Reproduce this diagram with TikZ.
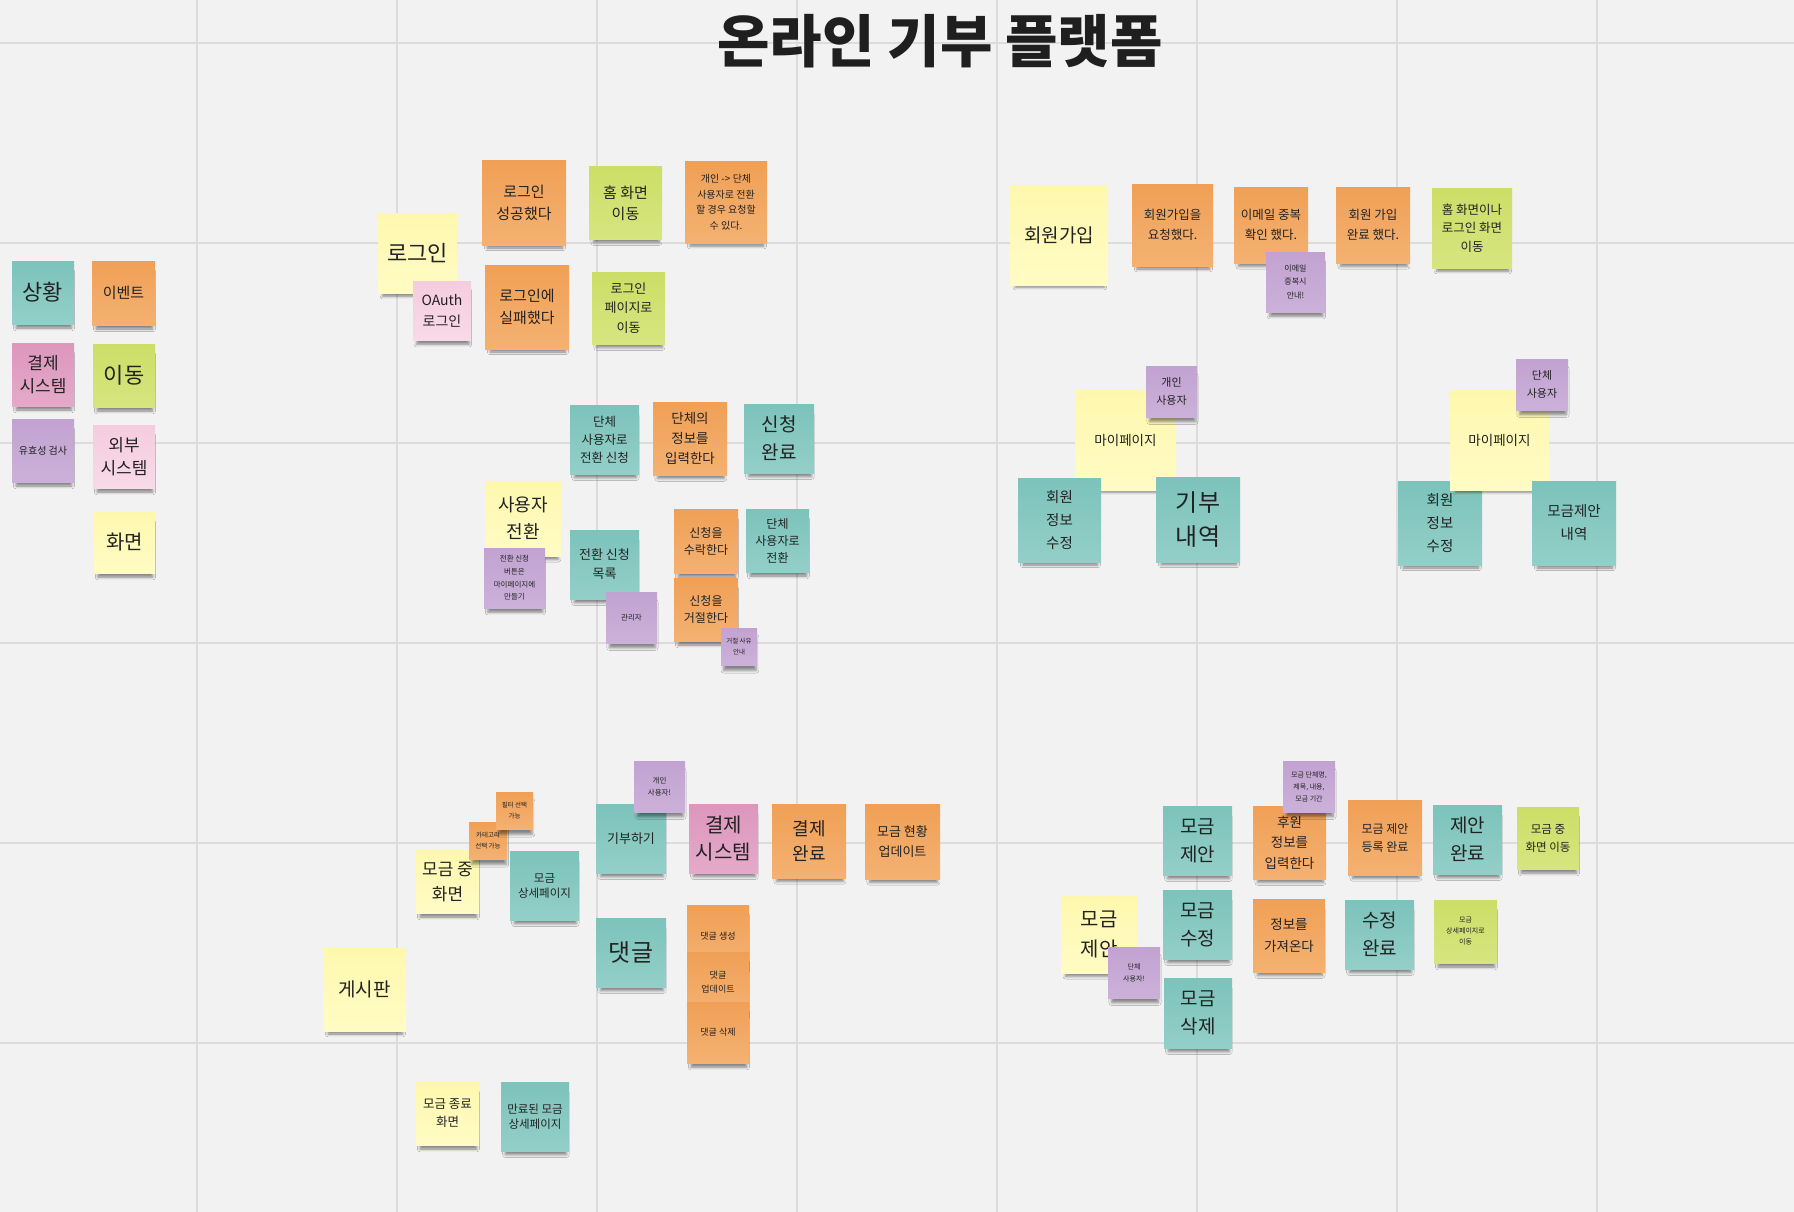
\documentclass[tikz,border=0pt]{standalone}
\usepackage{fontspec}
\setmainfont{Noto Sans CJK KR}
\usetikzlibrary{shadows,shadows.blur}
\definecolor{boardbg}{HTML}{F2F2F2}
\definecolor{gridgray}{HTML}{DCDCDC}
\definecolor{ink}{HTML}{222222}
\definecolor{tealA}{HTML}{7CC3BB}\definecolor{tealB}{HTML}{93CFC8}
\definecolor{orangeA}{HTML}{F0A056}\definecolor{orangeB}{HTML}{F4B172}
\definecolor{limeA}{HTML}{CCDE66}\definecolor{limeB}{HTML}{D7E580}
\definecolor{yellowA}{HTML}{FEF8AE}\definecolor{yellowB}{HTML}{FFFBC4}
\definecolor{pinkA}{HTML}{DD96BC}\definecolor{pinkB}{HTML}{E4AACA}
\definecolor{blushA}{HTML}{F5CCDF}\definecolor{blushB}{HTML}{F8DAE8}
\definecolor{violetA}{HTML}{C2A2D1}\definecolor{violetB}{HTML}{CBB1D9}
\tikzset{
  note/.style={rectangle, inner sep=1pt, align=center, text=ink,
    blur shadow={shadow xshift=1pt, shadow yshift=-8pt, shadow blur radius=3pt, shadow opacity=45, shadow scale=0.9}},
  teal note/.style={note, top color=tealA, bottom color=tealB},
  orange note/.style={note, top color=orangeA, bottom color=orangeB},
  lime note/.style={note, top color=limeA, bottom color=limeB},
  yellow note/.style={note, top color=yellowA, bottom color=yellowB},
  pink note/.style={note, top color=pinkA, bottom color=pinkB},
  blush note/.style={note, top color=blushA, bottom color=blushB},
  violet note/.style={note, top color=violetA, bottom color=violetB},
  wh/.style 2 args={minimum width=#1, minimum height=#2},
  fz/.style 2 args={font=\fontsize{#1}{#2}\selectfont},
  gridline/.style={draw=gridgray, line width=2pt}
}

\begin{document}
\begin{tikzpicture}[x=1pt, y=-1pt]
\fill[boardbg] (0,0) rectangle (1794,1212);
\useasboundingbox (0,0) rectangle (1794,1212);
\foreach \gx in {197,397,...,1597} \draw[gridline] (\gx,0) -- (\gx,1212);
\foreach \gy in {43,243,...,1043} \draw[gridline] (0,\gy) -- (1794,\gy);

\node[font=\fontsize{57}{60}\selectfont\bfseries, text=ink!90!black] (title) at (940,41) {온라인 기부 플랫폼};

% legend
\node[teal note, wh={62}{63}, fz={22}{26}] (keySituation) at (43,292.5) {상황};
\node[orange note, wh={63}{64}, fz={15}{20}] (keyEvent) at (123.5,293) {이벤트};
\node[pink note, wh={62}{63}, fz={17}{23}] (keyPay) at (43,374.5) {결제\\시스템};
\node[lime note, wh={62}{63}, fz={22}{26}] (keyMove) at (124,375.5) {이동};
\node[violet note, wh={62}{63}, fz={10}{13}] (keyCheck) at (43,450.5) {유효성 검사};
\node[blush note, wh={62}{63}, fz={17}{23}] (keyExternal) at (124,456.5) {외부\\시스템};
\node[yellow note, wh={61}{61}, fz={20}{24}] (keyScreen) at (124.5,542.5) {화면};

% login
\node[yellow note, wh={79}{80}, fz={22}{26}] (login) at (417.5,253) {로그인};
\node[blush note, wh={58}{59}, fz={14}{21}] (oauth) at (442,310.5) {OAuth\\로그인};
\node[orange note, wh={84}{84}, fz={15}{21.5}] (loginOk) at (524,203) {로그인\\성공했다};
\node[orange note, wh={84}{84}, fz={15}{21.5}] (loginFail) at (527,307) {로그인에\\실패했다};
\node[lime note, wh={73}{72}, fz={15}{21}] (toHome) at (625.5,203) {홈 화면\\이동};
\node[lime note, wh={73}{72}, fz={13}{19.5}] (toLoginPage) at (628.5,308) {로그인\\페이지로\\이동};
\node[orange note, wh={82}{81}, fz={10}{15.5}] (noteSwitch) at (726,202.5) {개인 -> 단체\\사용자로 전환\\할 경우 요청할\\수 있다.};

% user switch
\node[teal note, wh={69}{69}, fz={12.5}{18}] (reqGroup) at (604.5,439.5) {단체\\사용자로\\전환 신청};
\node[orange note, wh={74}{73}, fz={13.5}{20}] (inputGroup) at (690,438.5) {단체의\\정보를\\입력한다};
\node[teal note, wh={70}{69}, fz={19}{28}] (reqDone) at (779,438.5) {신청\\완료};
\node[yellow note, wh={76}{75}, fz={18}{27}] (switchUser) at (523,518.5) {사용자\\전환};
\node[violet note, wh={61}{60}, fz={7.5}{12.7}] (noteButton) at (514.5,578) {전환 신청\\버튼은\\마이페이지에\\만들기};
\node[teal note, wh={69}{69}, fz={13}{19}] (reqList) at (604.5,564.5) {전환 신청\\목록};
\node[violet note, wh={51}{51}, fz={7.5}{10}] (admin) at (631.5,617.5) {관리자};
\node[orange note, wh={64}{64}, fz={12}{17}] (accept) at (706,541) {신청을\\수락한다};
\node[teal note, wh={63}{63}, fz={12}{17}] (toGroup) at (777.5,540.5) {단체\\사용자로\\전환};
\node[orange note, wh={64}{63}, fz={12}{17}] (reject) at (706,609.5) {신청을\\거절한다};
\node[violet note, wh={36}{37}, fz={6.5}{10.5}] (rejectMsg) at (739,646.5) {거절 사유\\안내};

% sign up
\node[yellow note, wh={98}{100}, fz={19}{24}] (signup) at (1059,235) {회원가입};
\node[orange note, wh={81}{82}, fz={12.5}{20}] (signupReq) at (1172.5,225) {회원가입을\\요청했다.};
\node[orange note, wh={74}{76}, fz={12.5}{20}] (emailCheck) at (1271,225) {이메일 중복\\확인 했다.};
\node[violet note, wh={59}{60}, fz={8}{13.5}] (emailDup) at (1295.5,282) {이메일\\중복시\\안내!};
\node[orange note, wh={74}{76}, fz={12.5}{20}] (signupDone) at (1373,225) {회원 가입\\완료 했다.};
\node[lime note, wh={80}{80}, fz={12.5}{18.5}] (toHomeOrLogin) at (1472,228) {홈 화면이나\\로그인 화면\\이동};

% my page
\node[yellow note, wh={101}{100}, fz={13.5}{18}] (myPageA) at (1125.5,440) {마이페이지};
\node[violet note, wh={51}{51}, fz={11}{18}] (personal) at (1171.5,391.5) {개인\\사용자};
\node[teal note, wh={83}{84}, fz={14.5}{23}] (editInfoA) at (1059.5,520) {회원\\정보\\수정};
\node[teal note, wh={84}{85}, fz={24}{34}] (donations) at (1198,519.5) {기부\\내역};
\node[teal note, wh={84}{84}, fz={14.5}{23}] (editInfoB) at (1440,523) {회원\\정보\\수정};
\node[yellow note, wh={99}{100}, fz={13.5}{18}] (myPageB) at (1499.5,440) {마이페이지};
\node[violet note, wh={52}{51}, fz={11}{18}] (groupUser) at (1542,384.5) {단체\\사용자};
\node[teal note, wh={84}{84}, fz={14.5}{23}] (proposals) at (1574,523) {모금제안\\내역};

% board
\node[yellow note, wh={83}{83}, fz={19}{24}] (board) at (364.5,989.5) {게시판};
\node[yellow note, wh={63}{63}, fz={17}{25}] (ongoing) at (447.5,881.5) {모금 중\\화면};
\node[orange note, wh={38}{37}, fz={6.5}{11}] (category) at (488,840.5) {카테고리\\선택 가능};
\node[orange note, wh={37}{37}, fz={6.5}{11}] (filter) at (514.5,810.5) {필터 선택\\가능};
\node[teal note, wh={69}{69}, fz={11.5}{15}] (detail) at (544.5,885.5) {모금\\상세페이지};
\node[teal note, wh={70}{69}, fz={13}{18}] (donate) at (631,838.5) {기부하기};
\node[violet note, wh={51}{51}, fz={7.5}{12}] (personalOnly) at (659.5,786.5) {개인\\사용자!};
\node[pink note, wh={69}{69}, fz={20}{27}] (payment) at (723.5,838.5) {결제\\시스템};
\node[orange note, wh={74}{74}, fz={18}{25}] (payDone) at (809,841) {결제\\완료};
\node[orange note, wh={75}{75}, fz={13}{20}] (progress) at (902.5,841.5) {모금 현황\\업데이트};
\node[teal note, wh={70}{69}, fz={24}{28}] (comment) at (631,952.5) {댓글};
\node[orange note, wh={62}{62}, fz={9}{14}] (cmtNew) at (718,936) {댓글 생성};
\node[orange note, wh={62}{61}, fz={9}{14}] (cmtEdit) at (718,982.5) {댓글\\업데이트};
\node[orange note, wh={62}{61}, fz={9}{14}] (cmtDel) at (718,1032.5) {댓글 삭제};
\node[yellow note, wh={63}{63}, fz={12.5}{18}] (ended) at (447.5,1113.5) {모금 종료\\화면};
\node[teal note, wh={68}{69}, fz={11.5}{15}] (expired) at (535,1116.5) {만료된 모금\\상세페이지};

% fundraising proposal
\node[yellow note, wh={76}{77}, fz={20}{30}] (propose) at (1099,934.5) {모금\\제안};
\node[violet note, wh={52}{51}, fz={7}{12}] (groupOnly) at (1134,972.5) {단체\\사용자!};
\node[teal note, wh={69}{69}, fz={19}{28}] (fundNew) at (1197.5,840.5) {모금\\제안};
\node[teal note, wh={69}{69}, fz={19}{28}] (fundEdit) at (1197.5,924.5) {모금\\수정};
\node[teal note, wh={68}{70}, fz={19}{28}] (fundDel) at (1198,1013) {모금\\삭제};
\node[orange note, wh={73}{73}, fz={13.5}{20.5}] (inputFund) at (1289.5,842.5) {후원\\정보를\\입력한다};
\node[violet note, wh={52}{51}, fz={7}{12}] (fundFields) at (1309,786.5) {모금 단체명,\\제목, 내용,\\모금 기간};
\node[orange note, wh={72}{73}, fz={13.5}{21.5}] (loadInfo) at (1289,935.5) {정보를\\가져온다};
\node[orange note, wh={74}{75}, fz={12}{18}] (fundAdded) at (1385,837.5) {모금 제안\\등록 완료};
\node[teal note, wh={69}{69}, fz={19}{28}] (editDone) at (1379.5,934.5) {수정\\완료};
\node[teal note, wh={69}{69}, fz={19}{28}] (proposeDone) at (1467.5,839.5) {제안\\완료};
\node[lime note, wh={63}{63}, fz={7}{11}] (toDetail) at (1465.5,931.5) {모금\\상세페이지로\\이동};
\node[lime note, wh={62}{62}, fz={11.5}{18}] (toOngoing) at (1548,838) {모금 중\\화면 이동};
\end{tikzpicture}
\end{document}
